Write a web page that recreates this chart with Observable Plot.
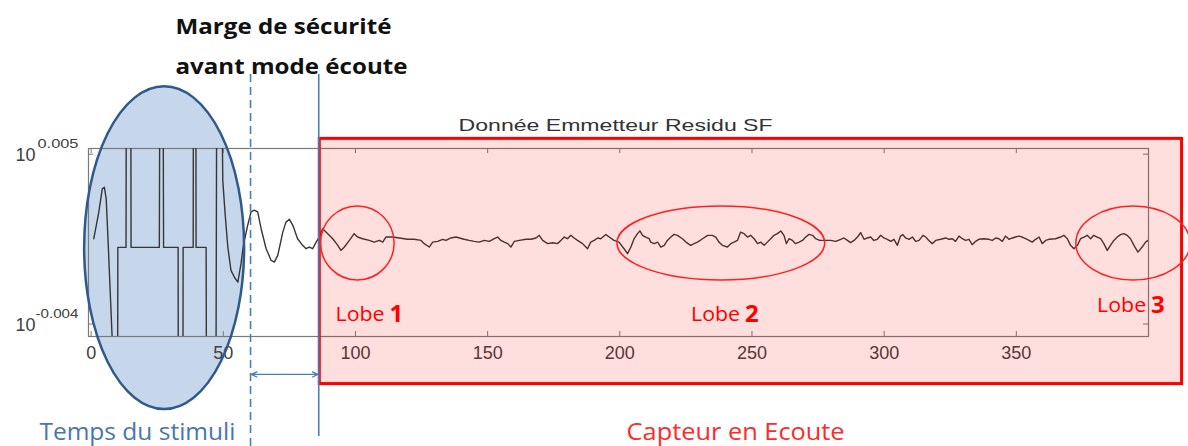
<!DOCTYPE html>
<html>
<head>
<meta charset="utf-8">
<script src="https://cdn.jsdelivr.net/npm/d3@7"></script>
<script src="https://cdn.jsdelivr.net/npm/@observablehq/plot@0.6"></script>
<style>
  html, body { margin: 0; padding: 0; background: #ffffff; }
  #chart { width: 1188px; height: 446px; overflow: hidden; }
</style>
</head>
<body>
<div id="chart"></div>
<script>
// ---------- DATA (x = sample index, value = log10 of the residual) ----------
const stimulusPart = [
  [1.0,0.00052],[2.9,0.00193],[4.2,0.00316],[5.0,0.00325],[5.7,0.00263],[6.5,0.0001],[8.0,-0.0049],[9.9,-0.02],
  [10.1,0.00006],[13.2,0.00006],[13.4,0.02],[14.9,0.02],[15.1,0.00006],[25.8,0.00006],[26.2,0.02],[27.0,0.02],
  [27.4,0.00006],[32.9,0.00006],[33.1,-0.02],[34.6,-0.02],[34.8,0.00006],[38.6,0.00006],[38.8,0.02],[39.5,0.02],
  [39.7,0.00006],[43.5,0.00006],[43.8,-0.02],[47.0,-0.02],[47.7,0.02],[48.6,0.02]
];
const marginPart = [
  [49.8,0.0036],[50.7,0.0018],[51.7,0.00008],[52.9,-0.00116],[54.2,-0.00152],[55.5,-0.00178],[56.7,-0.0008],
  [57.6,0.00017],[59.2,0.00123],[60.5,0.00194],[61.7,0.00203],[63.0,0.00194],[64.3,0.00105],[66.2,-0.00001],
  [68.1,-0.00063],[69.3,-0.00072],[70.6,-0.00036],[72.5,0.00087],[73.7,0.0014],[75.0,0.00155],[76.3,0.00123],
  [78.1,0.00052],[80.0,0.00017],[81.3,-0.00001],[82.5,0.00008],[83.8,-0.00001],[85.1,0.00034]
];
const lobe1Part = [
  [86.3,0.00061],[87.6,0.00105],[89.5,0.00079],[91.4,0.00052],[93.3,0.00017],[94.5,-0.0001],[95.8,0.00008],
  [97.7,0.00043],[99.5,0.00079],[100.8,0.00061],[102.7,0.00052],[105.2,0.00043],[107.1,0.00034],[109.0,0.00043],
  [110.3,0.00034],[111.5,0.00061],[114.1,0.00061],[116.6,0.00056]
];
const calmPart1 = [
  [119.7,0.00049],[122.2,0.00049],[124.8,0.00043],[126.0,0.00026],[127.9,0.00008],[129.2,0.00034],[131.1,0.00038],
  [133.0,0.00049],[134.2,0.00043],[136.1,0.00056],[138.0,0.00061],[139.3,0.00056],[141.1,0.00049],[143.0,0.00043],
  [144.9,0.00038],[146.8,0.00034],[148.7,0.00043],[150.6,0.00038],[152.5,0.00052],[153.8,0.00061],[155.0,0.00043],
  [156.3,0.00034],[157.6,0.00026],[158.8,0.00008],[160.1,0.00038],[162.0,0.00043],[164.5,0.00049],[166.4,0.00049],
  [168.3,0.00056],[169.5,0.0007],[170.8,0.00043],[172.7,0.00026],[174.6,0.00031],[176.4,0.00026],[177.7,0.00043],
  [179.0,0.00061],[180.2,0.00052],[181.5,0.0007],[182.7,0.00056],[184.0,0.00043],[185.9,0.00026],[187.8,-0.00001],
  [189.0,0.00034],[190.3,0.00043],[191.6,0.00056],[192.8,0.00052],[194.7,0.00074],[196.0,0.00061],[197.8,0.00043]
];
const lobe2Part = [
  [199.7,0.00034],[201.6,-0.00001],[202.9,-0.00027],[204.2,0.00008],[205.4,0.00052],[206.7,0.00079],[207.6,0.00093],
  [208.6,0.0007],[209.8,0.00061],[211.1,0.00052],[211.7,0.00034],[213.0,0.00026],[214.3,0.00034],[215.5,0.00008],
  [216.8,0.00017],[218.0,0.00043],[219.3,0.00061],[220.5,0.00075],[221.8,0.0007],[223.7,0.00052],[225.0,0.00034],
  [226.8,0.00017],[228.1,0.00026],[229.4,0.00034],[231.3,0.00052],[233.2,0.0007],[235.0,0.0007],[236.3,0.00061],
  [237.5,0.00034],[238.8,0.00017],[240.7,0.00008],[242.0,0.00026],[243.2,0.00034],[244.5,0.00043],[245.7,0.00087],
  [247.0,0.00079],[248.3,0.00061],[249.5,0.0007],[250.8,0.00052],[252.1,0.00026],[253.3,0.00034],[254.6,0.00017],
  [255.8,0.00034],[257.1,0.00052],[258.3,0.0007],[259.6,0.00079],[260.9,0.00093],[262.1,0.0007],[263.0,0.00026],
  [264.0,0.00052],[265.3,0.00043],[266.5,0.00026],[267.8,0.00034],[269.1,0.00043],[270.3,0.00061],[271.6,0.00075],
  [272.9,0.0007],[274.1,0.00052],[275.6,0.00043],[277.2,0.00043]
];
const calmPart2 = [
  [279.8,0.00043],[281.7,0.00038],[283.6,0.00049],[284.8,0.00056],[286.1,0.00043],[287.3,0.00031],[288.6,0.00043],
  [289.9,0.00061],[291.1,0.00084],[292.4,0.00049],[293.6,0.00056],[294.9,0.00061],[296.1,0.00043],[297.4,0.00049],
  [298.7,0.0007],[299.9,0.00056],[301.2,0.00049],[302.5,0.00038],[303.7,0.00049],[305.0,0.00017],[306.2,0.00066],
  [307.1,0.00074],[308.1,0.00056],[309.4,0.00049],[310.7,0.00061],[311.9,0.00038],[313.2,0.00043],[314.7,0.0007],
  [315.7,0.00061],[316.9,0.00043],[318.2,0.00026],[319.5,0.00043],[321.4,0.00049],[323.3,0.00056],[324.5,0.00049],
  [325.8,0.00052],[327.0,0.00038],[328.3,0.00066],[329.6,0.00052],[330.8,0.00043],[332.1,0.00049],[333.3,0.0002],
  [334.6,0.00038],[335.8,0.00049],[337.7,0.00052],[339.6,0.00049],[340.9,0.00043],[342.2,0.00056],[343.4,0.00052],
  [344.7,0.00038],[345.9,0.00066],[347.2,0.00049],[348.5,0.00056],[349.7,0.00061],[351.0,0.00066],[352.2,0.00061],
  [353.5,0.00052],[354.8,0.00043],[356.0,0.00034],[357.3,0.00049],[358.6,0.00061],[359.8,0.00026],[361.1,0.00043],
  [362.3,0.00049],[364.8,0.00052]
];
const lobe3Part = [
  [366.7,0.00061],[368.0,0.0007],[369.3,0.00052],[370.5,0.00017],[371.8,-0.00001],[373.1,0.00017],[374.3,0.00052],
  [375.6,0.00061],[376.8,0.0007],[378.1,0.00052],[379.3,0.0007],[380.6,0.00061],[381.9,0.00052],[383.1,0.00026],
  [384.4,-0.0001],[385.6,0.00017],[386.9,0.00043],[388.2,0.00061],[389.4,0.00074],[390.7,0.00079],[391.9,0.0007],
  [393.2,0.00052],[394.5,0.00017],[396.0,-0.00019],[397.6,0.00008],[398.9,0.00034],[399.8,0.00043]
];

const xTickValues = [0, 50, 100, 150, 200, 250, 300, 350];
const yTickValues = [0.005, -0.004];
const yTickExponents = ["0.005", "-0.004"];
const titleText = ["Donnée Emmetteur Residu SF"];
const marginNote = ["Marge de sécurité", "avant mode écoute"];
const zoneLabels = ["Temps du stimuli", "Capteur en Ecoute"];
const lobeWords = ["Lobe", "Lobe", "Lobe"];
const lobeNumbers = ["1", "2", "3"];

// ---------- TABLE ----------
const signal = [stimulusPart, marginPart, lobe1Part, calmPart1, lobe2Part, calmPart2, lobe3Part]
  .flat().map(([x, v]) => ({x, v}));

// custom ellipse annotation mark drawn through the plot's scales
function ellipses(shapes, style) {
  return (index, scales) => {
    const g = d3.create("svg:g");
    for (const s of shapes) {
      const cx = scales.x(s.cx), cy = scales.y(s.cy);
      g.append("ellipse")
        .attr("cx", cx).attr("cy", cy)
        .attr("rx", Math.abs(scales.x(s.cx + s.rx) - cx))
        .attr("ry", Math.abs(scales.y(s.cy + s.ry) - cy))
        .attr("fill", style.fill)
        .attr("fill-opacity", style.fillOpacity ?? 1)
        .attr("stroke", style.stroke)
        .attr("stroke-width", style.strokeWidth);
    }
    return g.node();
  };
}

const blue = "#4a7ebb";
const red = "#ff0000";
const calib = "'Open Sans', 'Liberation Sans', sans-serif";
const stimulusShape = [{cx: 27.8, cy: 0.00002, rx: 30.26, ry: 0.00855}];

const chart = Plot.plot({
  width: 1188,
  height: 446,
  marginLeft: 88,
  marginRight: 40,
  marginTop: 148,
  marginBottom: 110,
  x: {domain: [-1, 400]},
  y: {domain: [-0.00466, 0.0053], axis: null},
  style: {background: "#ffffff", fontFamily: "'Liberation Sans', Arial, sans-serif", color: "#404040"},
  marks: [
    // stimulus ellipse fill (behind frame, axis and trace)
    ellipses(stimulusShape, {fill: "#b4cae4", fillOpacity: 0.75, stroke: "none", strokeWidth: 0}),
    Plot.frame({stroke: "#7a7a7a", strokeWidth: 1.2}),
    // inward ticks (bottom, top, left, right)
    Plot.ruleX(xTickValues, {insetTop: 183, stroke: "#7a7a7a"}),
    Plot.ruleX(xTickValues, {insetBottom: 183, stroke: "#7a7a7a"}),
    Plot.ruleY(yTickValues, {insetRight: 1055, stroke: "#7a7a7a"}),
    Plot.ruleY(yTickValues, {insetLeft: 1055, stroke: "#7a7a7a"}),
    Plot.axisX({ticks: xTickValues, tickSize: 0, tickPadding: 10, label: null, fontSize: 18, color: "#404040"}),
    // y tick labels 10^e
    Plot.text(yTickValues, {y: d => d, text: () => "10", frameAnchor: "left", textAnchor: "end", dx: -53, dy: 1, fontSize: 18, fill: "#404040"}),
    Plot.text(yTickValues, {y: d => d, text: (d, i) => yTickExponents[i], frameAnchor: "left", textAnchor: "end", dx: -10, dy: -10, fontSize: 13, fill: "#404040"}),
    // title
    Plot.text(titleText, {x: 198.4, y: 0.0065, text: d => d, fontSize: 17, fill: "#333333"}),
    // the residual signal
    Plot.line(signal, {x: "x", y: "v", stroke: "#363636", strokeWidth: 1.4, clip: true}),
    // stimulus ellipse outline
    ellipses(stimulusShape, {fill: "none", stroke: "#2f5a8c", strokeWidth: 2.5}),
    // listening zone
    Plot.rect([0], {x1: 86.5, x2: 412.7, y1: -0.00718, y2: 0.00581, fill: red, fillOpacity: 0.13, stroke: red, strokeWidth: 3}),
    // lobe circles
    ellipses([
      {cx: 100.9, cy: 0.00027, rx: 13.9, ry: 0.00196},
      {cx: 238.4, cy: 0.00027, rx: 39.3, ry: 0.00196},
      {cx: 394.3, cy: 0.00027, rx: 21.6, ry: 0.00196}
    ], {fill: "none", stroke: "#ff2020", strokeWidth: 1.5}),
    // safety margin markers
    Plot.ruleX([60.3], {y1: 0.00922, y2: -0.01049, stroke: blue, strokeWidth: 1.6, strokeDasharray: "8,5"}),
    Plot.ruleX([86.1], {y1: 0.00922, y2: -0.00996, stroke: blue, strokeWidth: 1.6}),
    Plot.arrow([0], {x1: 73.2, y1: -0.00667, x2: 60.6, y2: -0.00667, stroke: blue, strokeWidth: 1.3, headLength: 7, headAngle: 50}),
    Plot.arrow([0], {x1: 73.2, y1: -0.00667, x2: 85.8, y2: -0.00667, stroke: blue, strokeWidth: 1.3, headLength: 7, headAngle: 50}),
    // annotations
    Plot.text(marginNote, {x: 31.9, y: (d, i) => [0.01173, 0.00961][i], text: d => d, textAnchor: "start", fontSize: 21, fontWeight: "bold", fill: "#111111", fontFamily: calib}),
    Plot.text(zoneLabels, {x: (d, i) => [17.5, 243.8][i], y: -0.00974, text: d => d, fontSize: 24, fill: (d, i) => ["#4a76ad", "#ff2a2a"][i], fontFamily: calib}),
    Plot.text(lobeWords, {x: (d, i) => [111.0, 245.5, 399.1][i], y: (d, i) => [-0.0035, -0.0035, -0.00302][i], text: d => d, textAnchor: "end", fontSize: 20, fill: red, fontFamily: calib}),
    Plot.text(lobeNumbers, {x: (d, i) => [111.0, 245.5, 399.1][i], y: (d, i) => [-0.0035, -0.0035, -0.00302][i], text: d => d, textAnchor: "start", dx: 5, fontSize: 24, fontWeight: "bold", fill: red, fontFamily: calib})
  ]
});

// match the stretched text widths of the reference
const widths = new Map([
  ["Donnée Emmetteur Residu SF", 314],
  ["Marge de sécurité", 216],
  ["avant mode écoute", 232],
  ["Temps du stimuli", 196],
  ["Capteur en Ecoute", 218],
  ["Lobe", 49],
  ["0.005", 41],
  ["-0.004", 43]
]);
chart.querySelectorAll("text").forEach(t => {
  const w = widths.get(t.textContent);
  if (w) { t.setAttribute("textLength", w); t.setAttribute("lengthAdjust", "spacingAndGlyphs"); }
});

document.getElementById("chart").append(chart);
</script>
</body>
</html>
